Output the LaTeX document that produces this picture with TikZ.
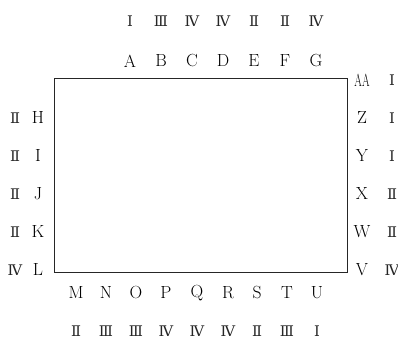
\documentclass[tikz,border=0pt]{standalone}
\usepackage{fontspec}
\usepackage{graphicx}
\usepackage{tikz}
\usetikzlibrary{positioning}
\newfontfamily\romfont{DejaVu Serif}

\tikzset{
  lab/.style={inner sep=0pt, font=\fontsize{15}{17}\selectfont},
  num/.style={inner sep=0pt, text=black!85, font=\fontsize{12.5}{15}\selectfont\romfont},
  frame/.style={line width=0.7pt, draw=black!85}
}

\begin{document}
\begin{tikzpicture}
        \useasboundingbox (-1.62,-2.01) rectangle (10.32,8.16);
        \draw[frame] (0,0) rectangle (8.8,5.8);

        % top side
        \node[lab] (A) at (2.28, 6.33) {A};
        \node[lab] (B) at (3.21, 6.33) {B};
        \node[lab] (C) at (4.14, 6.33) {C};
        \node[lab] (D) at (5.07, 6.33) {D};
        \node[lab] (E) at (6.00, 6.33) {E};
        \node[lab] (F) at (6.93, 6.33) {F};
        \node[lab] (G) at (7.86, 6.33) {G};
        \node[num] (nA) at (2.28, 7.53) {Ⅰ};
        \node[num] (nB) at (3.21, 7.53) {Ⅲ};
        \node[num] (nC) at (4.14, 7.53) {Ⅳ};
        \node[num] (nD) at (5.07, 7.53) {Ⅳ};
        \node[num] (nE) at (6.00, 7.53) {Ⅱ};
        \node[num] (nF) at (6.93, 7.53) {Ⅱ};
        \node[num] (nG) at (7.86, 7.53) {Ⅳ};

        % left side
        \node[lab] (H) at (-0.48, 4.62) {H};
        \node[lab] (I) at (-0.48, 3.48) {I};
        \node[lab] (J) at (-0.48, 2.34) {J};
        \node[lab] (K) at (-0.48, 1.20) {K};
        \node[lab] (L) at (-0.48, 0.06) {L};
        \node[num] (nH) at (-1.17, 4.62) {Ⅱ};
        \node[num] (nI) at (-1.17, 3.48) {Ⅱ};
        \node[num] (nJ) at (-1.17, 2.34) {Ⅱ};
        \node[num] (nK) at (-1.17, 1.20) {Ⅱ};
        \node[num] (nL) at (-1.17, 0.06) {Ⅳ};

        % bottom side
        \node[lab] (M) at (0.66, -0.63) {M};
        \node[lab] (N) at (1.56, -0.63) {N};
        \node[lab] (O) at (2.46, -0.63) {O};
        \node[lab] (P) at (3.36, -0.63) {P};
        \node[lab] (Q) at (4.29, -0.63) {Q};
        \node[lab] (R) at (5.22, -0.63) {R};
        \node[lab] (S) at (6.09, -0.63) {S};
        \node[lab] (T) at (6.99, -0.63) {T};
        \node[lab] (U) at (7.89, -0.63) {U};
        \node[num] (nM) at (0.66, -1.77) {Ⅱ};
        \node[num] (nN) at (1.56, -1.77) {Ⅲ};
        \node[num] (nO) at (2.46, -1.77) {Ⅲ};
        \node[num] (nP) at (3.36, -1.77) {Ⅳ};
        \node[num] (nQ) at (4.29, -1.77) {Ⅳ};
        \node[num] (nR) at (5.22, -1.77) {Ⅳ};
        \node[num] (nS) at (6.09, -1.77) {Ⅱ};
        \node[num] (nT) at (6.99, -1.77) {Ⅲ};
        \node[num] (nU) at (7.89, -1.77) {Ⅰ};

        % right side
        \node[lab] (AA) at (9.24, 5.76) {\scalebox{0.62}[1]{AA}};
        \node[lab] (Z) at (9.24, 4.62) {Z};
        \node[lab] (Y) at (9.24, 3.48) {Y};
        \node[lab] (X) at (9.24, 2.34) {X};
        \node[lab] (W) at (9.24, 1.20) {W};
        \node[lab] (V) at (9.24, 0.06) {V};
        \node[num] (nAA) at (10.14, 5.76) {Ⅰ};
        \node[num] (nZ) at (10.14, 4.62) {Ⅰ};
        \node[num] (nY) at (10.14, 3.48) {Ⅰ};
        \node[num] (nX) at (10.14, 2.34) {Ⅱ};
        \node[num] (nW) at (10.14, 1.20) {Ⅱ};
        \node[num] (nV) at (10.14, 0.06) {Ⅳ};
\end{tikzpicture}
\end{document}
